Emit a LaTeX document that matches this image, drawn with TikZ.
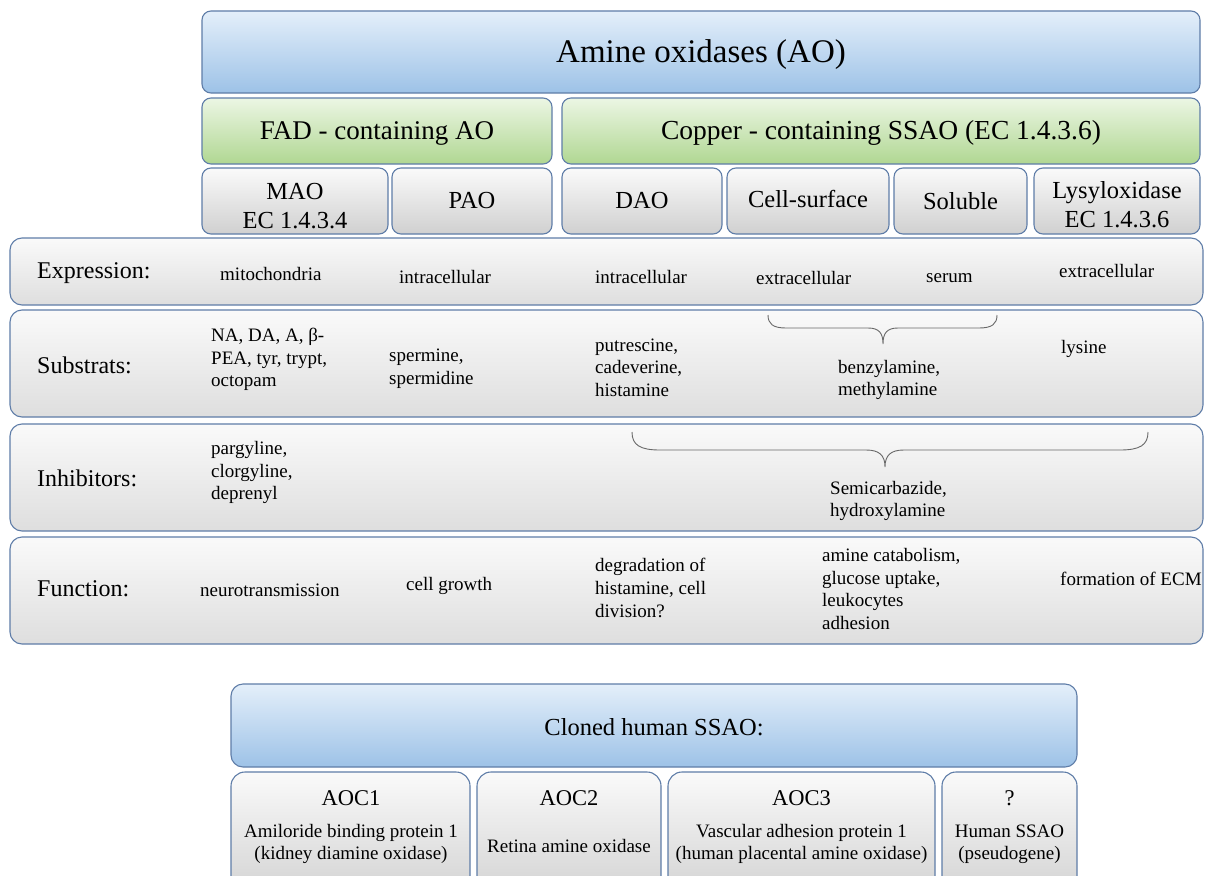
\documentclass[tikz,border=0pt]{standalone}
\usepackage{fontspec}
\setmainfont{Liberation Serif}
\definecolor{bord}{RGB}{95,125,168}
\definecolor{bluetop}{RGB}{228,239,250}
\definecolor{bluebot}{RGB}{157,194,231}
\definecolor{greentop}{RGB}{236,246,228}
\definecolor{greenbot}{RGB}{176,215,146}
\definecolor{graytop}{RGB}{250,250,250}
\definecolor{graybot}{RGB}{208,208,208}
\definecolor{rowtop}{RGB}{250,250,250}
\definecolor{rowbot}{RGB}{222,222,222}
\definecolor{bracecol}{RGB}{105,105,105}
\tikzset{
  basebox/.style={draw=bord, line width=1.1pt, rounded corners=9pt, inner sep=0pt},
  bluebox/.style={basebox, top color=bluetop, bottom color=bluebot},
  greenbox/.style={basebox, top color=greentop, bottom color=greenbot},
  graybox/.style={basebox, top color=graytop, bottom color=graybot, align=center},
  rowbox/.style={basebox, top color=rowtop, bottom color=rowbot, rounded corners=12pt},
  labt/.style={font=\fontsize{24}{28}\selectfont, anchor=west, inner sep=0pt},
  cellt/.style={font=\fontsize{19}{22.7}\selectfont, align=left, anchor=west, inner sep=0pt},
  hdrt/.style={font=\fontsize{24.5}{29}\selectfont, align=center, inner sep=0pt},
  subt/.style={font=\fontsize{19}{22.2}\selectfont, align=center, inner sep=0pt},
  bracel/.style={draw=bracecol, line width=0.9pt}
}
\begin{document}
\begin{tikzpicture}[x=1pt,y=-1pt]
\useasboundingbox (0,0) rectangle (1209,875);
\clip (0,0) rectangle (1209,875);
\fill[white] (0,0) rectangle (1209,875);

% top
\node[bluebox, minimum width=998pt, minimum height=82pt] (ao) at (701,52) {};
\node[font=\fontsize{33}{38}\selectfont, inner sep=0pt] (aot) at (701,55) {Amine oxidases (AO)};
\node[greenbox, minimum width=350pt, minimum height=66pt] (fad) at (377,131) {};
\node[font=\fontsize{27}{32}\selectfont, inner sep=0pt] (fadt) at (377,133) {FAD - containing AO};
\node[greenbox, minimum width=638pt, minimum height=66pt] (cu) at (881,131) {};
\node[font=\fontsize{27.5}{32}\selectfont, inner sep=0pt] (cut) at (881,133) {Copper - containing SSAO (EC 1.4.3.6)};

% header row
\node[graybox, minimum width=186pt, minimum height=66pt] (mao) at (295,201) {};
\node[hdrt] (maot) at (295,206) {MAO\\EC 1.4.3.4};
\node[graybox, minimum width=160pt, minimum height=66pt] (pao) at (472,201) {};
\node[hdrt] (paot) at (472,201) {PAO};
\node[graybox, minimum width=160pt, minimum height=66pt] (dao) at (642,201) {};
\node[hdrt] (daot) at (642,201) {DAO};
\node[graybox, minimum width=162pt, minimum height=66pt] (cs) at (808,201) {};
\node[hdrt] (cst) at (808,199) {Cell-surface};
\node[graybox, minimum width=133pt, minimum height=66pt] (sol) at (960.5,201) {};
\node[hdrt] (solt) at (960.5,201) {Soluble};
\node[graybox, minimum width=166pt, minimum height=66pt] (lys) at (1117,201) {};
\node[hdrt] (lyst) at (1117,205) {Lysyloxidase\\EC 1.4.3.6};

% rows
\node[rowbox, minimum width=1193pt, minimum height=67pt] (rexp) at (606.5,271.5) {};
\node[rowbox, minimum width=1193pt, minimum height=107pt] (rsub) at (606.5,363.5) {};
\node[rowbox, minimum width=1193pt, minimum height=107pt] (rinh) at (606.5,477.5) {};
\node[rowbox, minimum width=1193pt, minimum height=107pt] (rfun) at (606.5,590.5) {};

\node[labt] (lexp) at (37,273) {Expression:};
\node[labt] (lsub) at (37,365) {Substrats:};
\node[labt] (linh) at (37,478) {Inhibitors:};
\node[labt] (lfun) at (37,589) {Function:};

% expression
\node[cellt] (e1) at (220,274) {mitochondria};
\node[cellt] (e2) at (399,277) {intracellular};
\node[cellt] (e3) at (595,277) {intracellular};
\node[cellt] (e4) at (756,278) {extracellular};
\node[cellt] (e5) at (926,278) {serum};
\node[cellt] (e6) at (1059,271) {extracellular};

% substrates
\node[cellt] (s1) at (211,359.5) {NA, DA, A, β-\\PEA, tyr, trypt,\\octopam};
\node[cellt] (s2) at (389,368.5) {spermine,\\spermidine};
\node[cellt] (s3) at (595,367.5) {putrescine,\\cadeverine,\\histamine};
\node[cellt] (s4) at (838,380) {benzylamine,\\methylamine};
\node[cellt] (s5) at (1061,349) {lysine};

% inhibitors
\node[cellt] (i1) at (211,472.5) {pargyline,\\clorgyline,\\deprenyl};
\node[cellt] (i2) at (830,501) {Semicarbazide,\\hydroxylamine};

% function
\node[cellt] (f1) at (200,590) {neurotransmission};
\node[cellt] (f2) at (406,586) {cell growth};
\node[cellt] (f3) at (595,588) {degradation of\\histamine, cell\\division?};
\node[cellt] (f4) at (822,589) {amine catabolism,\\glucose uptake,\\leukocytes\\adhesion};
\node[cellt] (f5) at (1060,579) {formation of ECM};

% braces
\draw[bracel] (768,315) .. controls (768,324) and (773,328) .. (786,328) -- (868,328)
  .. controls (879,328) and (883,333) .. (883,344)
  .. controls (883,333) and (887,328) .. (898,328) -- (979,328)
  .. controls (992,328) and (997,324) .. (997,315);
\draw[bracel] (632,432) .. controls (632,445) and (640,450) .. (660,450) -- (866,450)
  .. controls (879,450) and (885,455) .. (885,467)
  .. controls (885,455) and (891,450) .. (904,450) -- (1120,450)
  .. controls (1140,450) and (1148,445) .. (1148,432);

% cloned
\node[bluebox, minimum width=846pt, minimum height=83pt, rounded corners=12pt] (cl) at (654,725.5) {};
\node[font=\fontsize{24.5}{28}\selectfont, inner sep=0pt] (clt) at (654,727) {Cloned human SSAO:};

\node[graybox, minimum width=239pt, minimum height=133pt, rounded corners=14pt] (b1) at (350.5,838.5) {};
\node[graybox, minimum width=184pt, minimum height=133pt, rounded corners=14pt] (b2) at (569,838.5) {};
\node[graybox, minimum width=267pt, minimum height=133pt, rounded corners=14pt] (b3) at (801.5,838.5) {};
\node[graybox, minimum width=135pt, minimum height=133pt, rounded corners=14pt] (b4) at (1009.5,838.5) {};

\node[font=\fontsize{22.5}{26}\selectfont, inner sep=0pt] (t1) at (351,798) {AOC1};
\node[font=\fontsize{22.5}{26}\selectfont, inner sep=0pt] (t2) at (569,798) {AOC2};
\node[font=\fontsize{22.5}{26}\selectfont, inner sep=0pt] (t3) at (801.5,798) {AOC3};
\node[font=\fontsize{22.5}{26}\selectfont, inner sep=0pt] (t4) at (1009.5,798) {?};

\node[subt] (d1) at (351,844) {Amiloride binding protein 1\\(kidney diamine oxidase)};
\node[subt] (d2) at (569,846) {Retina amine oxidase};
\node[subt] (d3) at (801.5,844) {Vascular adhesion protein 1\\(human placental amine oxidase)};
\node[subt] (d4) at (1009.5,844) {Human SSAO\\(pseudogene)};
\end{tikzpicture}
\end{document}
